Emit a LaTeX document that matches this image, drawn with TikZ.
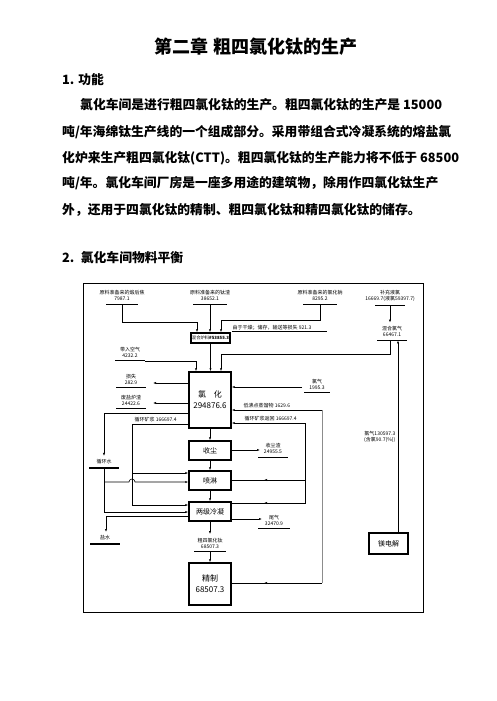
\documentclass[tikz,border=0pt]{standalone}
\usepackage{fontspec}
\setmainfont{Liberation Serif}
\newfontfamily\cjk{Noto Sans CJK SC}
\usetikzlibrary{arrows.meta,calc}
\definecolor{LineClr}{gray}{0.55}

\begin{document}
\begin{tikzpicture}[x=1pt,y=-1pt,
  body/.style={anchor=west,inner sep=0pt,font=\cjk\bfseries\fontsize{12.8}{15}\selectfont},
  itm/.style={align=center,inner xsep=0.5pt,inner ysep=3.5pt,font=\cjk\fontsize{5}{6}\selectfont},
  txt/.style={inner sep=0.5pt,font=\cjk\fontsize{5}{6}\selectfont},
  unit/.style={draw,line width=1.4pt,align=center,inner sep=0pt,minimum width=42pt,font=\cjk\fontsize{7}{8.5}\selectfont},
  flow/.style={line width=0.6pt,-{Latex[length=3pt,width=2.2pt]}},
  link/.style={line width=0.6pt},
  uline/.style={line width=1.2pt}]
\useasboundingbox (0,0) rectangle (496,701);

\node[font=\cjk\bfseries\fontsize{18}{20}\selectfont] (title) at (256,47) {第二章 粗四氯化钛的生产};
\node[body] (h1) at (62,80) {1. 功能};
\node[body] (p1) at (80,105) {氯化车间是进行粗四氯化钛的生产。粗四氯化钛的生产是 15000};
\node[body] (p2) at (62,132) {吨/年海绵钛生产线的一个组成部分。采用带组合式冷凝系统的熔盐氯};
\node[body] (p3) at (62,158) {化炉来生产粗四氯化钛(CTT)。粗四氯化钛的生产能力将不低于 68500};
\node[body] (p4) at (62,183) {吨/年。氯化车间厂房是一座多用途的建筑物，除用作四氯化钛生产};
\node[body] (p5) at (62,210) {外，还用于四氯化钛的精制、粗四氯化钛和精四氯化钛的储存。};
\node[body] (h2) at (62,258) {2.\enspace 氯化车间物料平衡};

\draw[link] (83,283) rectangle (423,612);

% streams
\node[itm] (hou) at (122,295.5) {原料准备来的煅后焦\\7987.1};
\node[itm] (tz) at (210,295.5) {原料准备来的钛渣\\38652.1};
\node[itm] (nacl) at (320,295.5) {原料准备来的氯化钠\\8295.2};
\node[itm] (bcl) at (390,296) {补充液氯\\16669.7(液氯59397.7)};
\node[itm] (hcl) at (392,331.5) {混合氯气\\66467.1};
\node[itm] (air) at (130,352) {带入空气\\4232.2};
\node[itm] (ls) at (131,379) {损失\\282.9};
\node[itm] (slag) at (131,400) {废盐炉渣\\24422.6};
\node[itm] (cl2) at (317,384) {氯气\\1995.3};
\node[itm] (ash) at (273,448.5) {收尘渣\\24955.5};
\node[itm] (water) at (104,462) {循环水};
\node[itm] (tail) at (274,520) {尾气\\32470.9};
\node[itm] (brine) at (105,538) {盐水};
\node[itm] (ctt) at (210,543) {粗四氯化钛\\68507.3};
\foreach \n/\w in {hou/16,tz/17,nacl/17,bcl/15,hcl/15,air/15,ls/15,slag/15,cl2/13,ash/15,water/15,tail/16,brine/15,ctt/16}
  \draw[uline] ([xshift=-\w pt]\n.south) -- ([xshift=\w pt]\n.south);

% units
\node[unit,minimum width=39pt,minimum height=10pt,font=\cjk\fontsize{4.3}{5}\selectfont] (mix) at (210.5,338) {混合炉料\textbf{\#53855.3}};
\node[unit,minimum height=56pt,font=\cjk\fontsize{8}{11}\selectfont] (chl) at (210,400) {氯\quad 化\\294876.6};
\node[unit,minimum height=19pt] (dust) at (210,450.5) {收尘};
\node[unit,minimum height=19pt] (spray) at (210,480.5) {喷淋};
\node[unit,minimum height=19pt] (cond) at (210,511.5) {两级冷凝};
\node[unit,minimum height=42pt,font=\cjk\fontsize{8}{11}\selectfont] (ref) at (210,584) {精制\\68507.3};
\node[unit,minimum width=39pt,minimum height=21pt] (mg) at (388.5,543.5) {镁电解};

\node[txt,anchor=south west] (drop) at (232,331) {由于干燥；储存，输送等损失 921.3};
\node[txt,anchor=south west] (slur) at (134,423) {循环矿浆 166697.4};
\node[txt,anchor=south west] (lowb) at (243,408.5) {低沸点蒸馏物 1629.6};
\node[txt,anchor=south west] (back) at (244,421.5) {循环矿浆返回 166697.4};
\node[txt,align=right,anchor=east] (mgcl) at (396,437) {氯气130597.3\\(含氯90.7(\%))};

% feed lines
\coordinate (k1) at (197,322);
\coordinate (k2) at (221,320);
\coordinate (k3) at (196,360);
\coordinate (k4) at (221,354);
\coordinate (dropend) at (327,332);
\draw[flow] (hou.south) |- (k1) -- (k1 |- mix.north);
\draw[flow] (tz.south) -- (tz.south |- mix.north);
\draw[flow] (nacl.south) |- (k2) -- (k2 |- mix.north);
\draw[link] (drop.south west) -- (drop.south west -| dropend);
\draw[flow] (mix.south) -- (mix.south |- chl.north);
\draw[flow] ([xshift=15pt]air.south) -| (k3 |- chl.north);
\draw[flow] ([xshift=-2pt]hcl.south) |- (k4) -- (k4 |- chl.north);
\draw[flow] (bcl.south) -- (bcl.south |- hcl.north);
\coordinate (mgx) at ([xshift=9.5pt]mg.north);
\draw[flow] (mgx) -- (mgx |- hcl.south);

% chlorinator
\coordinate (e1) at (153,383);
\coordinate (e2) at (153,403);
\coordinate (s1) at (302,387);
\draw[flow] (e1 -| chl.west) -- (e1);
\draw[flow] (e2 -| chl.west) -- (e2);
\draw[flow] (s1) -- (s1 -| chl.east);

% low boiling return
\coordinate (c1) at (322,410);
\coordinate (c2) at (322,583);
\draw[link] (c2 -| ref.east) -- (c2);
\draw[link,LineClr] (c2) -- (c1);
\draw[flow] (c1) -- (c1 -| chl.east);

% slurry return
\coordinate (c3) at (305,423);
\coordinate (c4) at (305,503);
\coordinate (c5) at (305,480);
\draw[flow] (c4 -| cond.east) -- (c4) -- (c3) -- (c3 -| chl.east);
\draw[link] (c5) -- (c5 -| spray.east);
\foreach \yy in {480,503,583}
  \draw[flow] (270,\yy) -- (264,\yy);

% slurry out
\coordinate (c6) at (132,424);
\coordinate (c7) at (132,505);
\coordinate (c8) at (132,473);
\draw[flow] (c6 -| chl.west) -- (c6) -- (c7) -- (c7 -| cond.west);
\draw[flow] (c8) -- (c8 -| spray.west);

% water and brine
\coordinate (w1) at (104,413);
\coordinate (w2) at (104,512);
\coordinate (w3) at (104,482);
\coordinate (b1) at (106,516);
\draw[flow] (w1 -| chl.west) -- (w1) -- (water.north);
\draw[flow] (water.south) -- (w2) -- (w2 -| cond.west);
\draw[flow] (w3) -- ++(25,0) arc (180:360:3) -- (w3 -| spray.west);
\draw[flow] (b1 -| cond.west) -- (b1) -- (b1 |- brine.north);

% main train
\draw[flow] (chl.south) -- (dust.north);
\draw[flow] (dust.south) -- (spray.north);
\draw[flow] (spray.south) -- (cond.north);
\draw[flow] (cond.south) -- (ctt.north);
\draw[flow] (ctt.south) -- (ref.north);
\coordinate (a1) at (260,450);
\coordinate (t1) at (262,519);
\draw[flow] (a1 -| dust.east) -- (a1);
\draw[flow] (t1 -| cond.east) -- (t1);
\end{tikzpicture}
\end{document}
